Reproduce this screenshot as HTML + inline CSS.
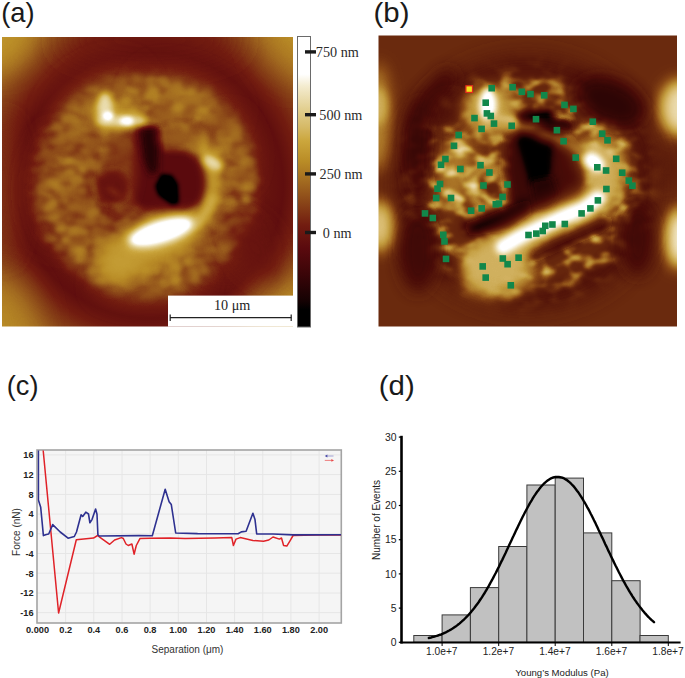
<!DOCTYPE html><html><head><meta charset="utf-8"><style>
html,body{margin:0;padding:0;background:#fff;width:685px;height:678px;overflow:hidden}
svg{display:block}
</style></head><body>
<svg width="685" height="678" viewBox="0 0 685 678">
<rect width="685" height="678" fill="#fff"/>
<defs>
<filter id="cmA" filterUnits="userSpaceOnUse" x="2" y="37" width="291" height="290" color-interpolation-filters="sRGB">
<feComponentTransfer><feFuncR type="table" tableValues="0.000 0.000 0.000 0.014 0.082 0.128 0.173 0.218 0.255 0.290 0.325 0.359 0.388 0.418 0.447 0.476 0.506 0.535 0.568 0.602 0.635 0.668 0.700 0.731 0.756 0.781 0.805 0.826 0.847 0.867 0.886 0.908 0.930 0.952 0.974 0.996 1.000 1.000 1.000 1.000 1.000"/><feFuncG type="table" tableValues="0.000 0.000 0.000 0.001 0.008 0.012 0.015 0.019 0.024 0.029 0.035 0.044 0.066 0.088 0.110 0.161 0.213 0.264 0.315 0.365 0.416 0.463 0.511 0.556 0.593 0.629 0.667 0.706 0.743 0.777 0.812 0.847 0.881 0.916 0.953 0.992 1.000 1.000 1.000 1.000 1.000"/><feFuncB type="table" tableValues="0.000 0.000 0.000 0.002 0.012 0.018 0.024 0.030 0.037 0.043 0.050 0.055 0.058 0.060 0.063 0.073 0.082 0.092 0.103 0.114 0.125 0.134 0.142 0.155 0.186 0.217 0.270 0.356 0.434 0.499 0.565 0.643 0.722 0.800 0.885 0.981 1.000 1.000 1.000 1.000 1.000"/></feComponentTransfer>
</filter>
<clipPath id="clipA"><rect x="2" y="37" width="291" height="289.5"/></clipPath>
<radialGradient id="bgA" cx="150" cy="185" r="215" gradientUnits="userSpaceOnUse">
<stop offset="0" stop-color="#5c5c5c"/>
<stop offset="0.55" stop-color="#4f4f4f"/>
<stop offset="0.62" stop-color="#4a4a4a"/>
<stop offset="0.68" stop-color="#575757"/>
<stop offset="0.78" stop-color="#6b6b6b"/>
<stop offset="0.9" stop-color="#858585"/>
<stop offset="1" stop-color="#999999"/>
</radialGradient>
<radialGradient id="ringA" cx="146" cy="184" r="125" gradientUnits="userSpaceOnUse">
<stop offset="0" stop-color="#5e5e5e" stop-opacity="1"/>
<stop offset="0.8" stop-color="#5e5e5e" stop-opacity="1"/>
<stop offset="0.9" stop-color="#575757" stop-opacity="0.6"/>
<stop offset="1" stop-color="#4f4f4f" stop-opacity="0"/>
</radialGradient>
<filter id="bA18" filterUnits="userSpaceOnUse" x="0" y="30" width="300" height="305"><feGaussianBlur stdDeviation="2.4"/></filter>
<filter id="bA2" filterUnits="userSpaceOnUse" x="0" y="30" width="300" height="305"><feGaussianBlur stdDeviation="2"/></filter>
<filter id="bA3" filterUnits="userSpaceOnUse" x="0" y="30" width="300" height="305"><feGaussianBlur stdDeviation="3"/></filter>
<filter id="bA5" filterUnits="userSpaceOnUse" x="0" y="30" width="300" height="305"><feGaussianBlur stdDeviation="5"/></filter>
<filter id="bA8" filterUnits="userSpaceOnUse" x="0" y="30" width="300" height="305"><feGaussianBlur stdDeviation="8"/></filter>
<filter id="bA12" filterUnits="userSpaceOnUse" x="0" y="30" width="300" height="305"><feGaussianBlur stdDeviation="12"/></filter>
<filter id="bA16" filterUnits="userSpaceOnUse" x="0" y="30" width="300" height="305"><feGaussianBlur stdDeviation="16"/></filter>
<filter id="texA" filterUnits="userSpaceOnUse" x="2" y="37" width="291" height="290" color-interpolation-filters="sRGB">
<feTurbulence type="fractalNoise" baseFrequency="0.06 0.09" numOctaves="2" seed="11" result="n"/>
<feColorMatrix in="n" type="matrix" values="0 0 0 0 1  0 0 0 0 1  0 0 0 0 1  2.0 0 0 0 -0.8" />
<feGaussianBlur stdDeviation="1.5"/>
</filter>
<mask id="ringMaskA"><rect x="0" y="0" width="685" height="678" fill="#000"/>
<ellipse cx="145" cy="184" rx="112" ry="110" fill="#fff" filter="url(#bA8)"/>
</mask>
</defs>
<g clip-path="url(#clipA)"><g filter="url(#cmA)">
<rect x="2" y="37" width="291" height="290" fill="url(#bgA)"/>
<ellipse cx="150" cy="40" rx="90" ry="22" fill="#4f4f4f" fill-opacity="0.6" filter="url(#bA16)"/>
<ellipse cx="2" cy="37" rx="30" ry="35" fill="#999999" fill-opacity="0.6" filter="url(#bA12)"/>
<ellipse cx="293" cy="37" rx="32" ry="42" fill="#949494" fill-opacity="0.5" filter="url(#bA16)"/>
<ellipse cx="2" cy="326" rx="35" ry="50" fill="#919191" fill-opacity="0.7" filter="url(#bA16)"/>
<ellipse cx="293" cy="326" rx="45" ry="60" fill="#949494" fill-opacity="0.8" filter="url(#bA16)"/>
<ellipse cx="2" cy="190" rx="16" ry="70" fill="#666666" fill-opacity="0.8" filter="url(#bA12)"/>
<circle cx="146" cy="184" r="125" fill="url(#ringA)"/>
<ellipse cx="100" cy="105" rx="45" ry="28" fill="#787878" fill-opacity="0.8" transform="rotate(-30 100 105)" filter="url(#bA16)"/>
<ellipse cx="185" cy="105" rx="45" ry="25" fill="#808080" fill-opacity="0.8" transform="rotate(20 185 105)" filter="url(#bA16)"/>
<ellipse cx="232" cy="150" rx="18" ry="35" fill="#7a7a7a" fill-opacity="0.7" transform="rotate(-10 232 150)" filter="url(#bA12)"/>
<ellipse cx="150" cy="285" rx="55" ry="18" fill="#808080" fill-opacity="0.6" filter="url(#bA12)"/>
<ellipse cx="225" cy="250" rx="30" ry="30" fill="#616161" fill-opacity="0.5" filter="url(#bA16)"/>
<ellipse cx="60" cy="190" rx="20" ry="55" fill="#6b6b6b" fill-opacity="0.5" filter="url(#bA16)"/>
<rect x="2" y="37" width="291" height="290" filter="url(#texA)" mask="url(#ringMaskA)" opacity="0.22"/>
<g filter="url(#bA18)"><ellipse cx="103.9" cy="82.2" rx="6.0" ry="4.5" fill="#7c7c7c" fill-opacity="0.19"/><ellipse cx="116.3" cy="82.7" rx="5.4" ry="4.3" fill="#787878" fill-opacity="0.50"/><ellipse cx="124.4" cy="79.9" rx="5.7" ry="4.0" fill="#868686" fill-opacity="0.45"/><ellipse cx="137.5" cy="79.2" rx="7.4" ry="5.0" fill="#868686" fill-opacity="0.53"/><ellipse cx="150.1" cy="80.7" rx="5.1" ry="5.3" fill="#898989" fill-opacity="0.64"/><ellipse cx="163.7" cy="82.2" rx="6.0" ry="4.6" fill="#8d8d8d" fill-opacity="0.65"/><ellipse cx="171.6" cy="80.8" rx="5.2" ry="4.3" fill="#757575" fill-opacity="0.45"/><ellipse cx="184.0" cy="79.0" rx="5.0" ry="4.2" fill="#747474" fill-opacity="0.10"/><ellipse cx="80.1" cy="92.7" rx="5.4" ry="4.8" fill="#848484" fill-opacity="0.04"/><ellipse cx="92.2" cy="90.2" rx="7.2" ry="5.0" fill="#939393" fill-opacity="0.33"/><ellipse cx="105.6" cy="89.2" rx="6.9" ry="4.8" fill="#787878" fill-opacity="0.67"/><ellipse cx="120.7" cy="89.0" rx="7.0" ry="5.5" fill="#7a7a7a" fill-opacity="0.80"/><ellipse cx="133.1" cy="91.8" rx="6.8" ry="4.3" fill="#8e8e8e" fill-opacity="0.80"/><ellipse cx="143.1" cy="89.1" rx="5.1" ry="4.4" fill="#747474" fill-opacity="0.80"/><ellipse cx="153.6" cy="91.2" rx="6.1" ry="5.4" fill="#929292" fill-opacity="0.80"/><ellipse cx="169.9" cy="92.7" rx="5.6" ry="4.3" fill="#7f7f7f" fill-opacity="0.80"/><ellipse cx="177.2" cy="88.2" rx="7.3" ry="5.3" fill="#878787" fill-opacity="0.80"/><ellipse cx="190.9" cy="90.9" rx="5.2" ry="5.0" fill="#8d8d8d" fill-opacity="0.65"/><ellipse cx="205.5" cy="91.7" rx="6.2" ry="4.3" fill="#8c8c8c" fill-opacity="0.22"/><ellipse cx="78.3" cy="97.8" rx="7.4" ry="5.0" fill="#737373" fill-opacity="0.24"/><ellipse cx="90.2" cy="102.6" rx="7.2" ry="5.2" fill="#818181" fill-opacity="0.80"/><ellipse cx="100.3" cy="98.5" rx="5.6" ry="4.9" fill="#7c7c7c" fill-opacity="0.80"/><ellipse cx="112.6" cy="99.5" rx="7.3" ry="4.5" fill="#777777" fill-opacity="0.80"/><ellipse cx="125.7" cy="100.5" rx="6.1" ry="5.4" fill="#919191" fill-opacity="0.80"/><ellipse cx="138.0" cy="100.2" rx="5.0" ry="4.7" fill="#848484" fill-opacity="0.80"/><ellipse cx="148.1" cy="97.0" rx="5.4" ry="4.7" fill="#8d8d8d" fill-opacity="0.80"/><ellipse cx="163.4" cy="100.3" rx="6.3" ry="4.8" fill="#7e7e7e" fill-opacity="0.80"/><ellipse cx="175.7" cy="97.6" rx="5.6" ry="4.4" fill="#858585" fill-opacity="0.80"/><ellipse cx="187.6" cy="100.0" rx="6.9" ry="5.4" fill="#858585" fill-opacity="0.80"/><ellipse cx="197.7" cy="100.7" rx="6.3" ry="5.0" fill="#848484" fill-opacity="0.80"/><ellipse cx="209.7" cy="100.2" rx="7.4" ry="5.0" fill="#838383" fill-opacity="0.53"/><ellipse cx="224.3" cy="102.7" rx="6.4" ry="5.4" fill="#7b7b7b" fill-opacity="0.03"/><ellipse cx="72.0" cy="107.9" rx="7.4" ry="4.3" fill="#909090" fill-opacity="0.47"/><ellipse cx="85.7" cy="109.4" rx="7.5" ry="5.2" fill="#838383" fill-opacity="0.80"/><ellipse cx="93.0" cy="109.6" rx="5.8" ry="4.3" fill="#848484" fill-opacity="0.80"/><ellipse cx="105.9" cy="111.3" rx="6.4" ry="4.7" fill="#737373" fill-opacity="0.80"/><ellipse cx="116.1" cy="109.0" rx="6.3" ry="4.1" fill="#878787" fill-opacity="0.80"/><ellipse cx="133.9" cy="111.7" rx="5.3" ry="4.4" fill="#939393" fill-opacity="0.80"/><ellipse cx="140.2" cy="111.7" rx="5.3" ry="4.6" fill="#7c7c7c" fill-opacity="0.80"/><ellipse cx="157.5" cy="111.9" rx="5.4" ry="5.4" fill="#7b7b7b" fill-opacity="0.80"/><ellipse cx="167.4" cy="111.2" rx="5.1" ry="5.0" fill="#767676" fill-opacity="0.80"/><ellipse cx="178.6" cy="107.4" rx="6.6" ry="5.2" fill="#929292" fill-opacity="0.80"/><ellipse cx="188.5" cy="112.1" rx="7.2" ry="4.7" fill="#757575" fill-opacity="0.80"/><ellipse cx="202.0" cy="110.3" rx="5.7" ry="4.2" fill="#919191" fill-opacity="0.80"/><ellipse cx="215.2" cy="108.4" rx="5.4" ry="4.1" fill="#767676" fill-opacity="0.72"/><ellipse cx="225.2" cy="108.9" rx="6.9" ry="4.4" fill="#7d7d7d" fill-opacity="0.28"/><ellipse cx="56.6" cy="117.6" rx="6.1" ry="4.7" fill="#8e8e8e" fill-opacity="0.14"/><ellipse cx="68.0" cy="119.4" rx="6.7" ry="5.5" fill="#848484" fill-opacity="0.80"/><ellipse cx="77.1" cy="122.0" rx="6.6" ry="4.6" fill="#8a8a8a" fill-opacity="0.80"/><ellipse cx="89.1" cy="117.3" rx="5.2" ry="5.1" fill="#777777" fill-opacity="0.80"/><ellipse cx="100.5" cy="118.0" rx="7.1" ry="5.3" fill="#767676" fill-opacity="0.80"/><ellipse cx="115.0" cy="118.7" rx="5.7" ry="4.7" fill="#7b7b7b" fill-opacity="0.80"/><ellipse cx="123.9" cy="119.7" rx="7.4" ry="5.5" fill="#7b7b7b" fill-opacity="0.80"/><ellipse cx="138.3" cy="118.5" rx="5.8" ry="4.5" fill="#939393" fill-opacity="0.80"/><ellipse cx="147.0" cy="119.3" rx="6.3" ry="4.3" fill="#828282" fill-opacity="0.80"/><ellipse cx="162.0" cy="117.0" rx="5.2" ry="4.6" fill="#7c7c7c" fill-opacity="0.80"/><ellipse cx="171.3" cy="117.1" rx="5.6" ry="4.9" fill="#7d7d7d" fill-opacity="0.80"/><ellipse cx="212.3" cy="119.3" rx="7.5" ry="4.2" fill="#7e7e7e" fill-opacity="0.80"/><ellipse cx="223.3" cy="120.9" rx="7.1" ry="5.3" fill="#747474" fill-opacity="0.80"/><ellipse cx="234.8" cy="121.4" rx="5.3" ry="4.8" fill="#8e8e8e" fill-opacity="0.32"/><ellipse cx="48.1" cy="131.2" rx="5.1" ry="4.2" fill="#7a7a7a" fill-opacity="0.15"/><ellipse cx="58.2" cy="127.6" rx="6.4" ry="4.9" fill="#8e8e8e" fill-opacity="0.61"/><ellipse cx="71.8" cy="131.1" rx="5.0" ry="5.2" fill="#838383" fill-opacity="0.80"/><ellipse cx="84.5" cy="130.0" rx="6.6" ry="4.1" fill="#848484" fill-opacity="0.80"/><ellipse cx="96.4" cy="128.5" rx="5.7" ry="5.1" fill="#757575" fill-opacity="0.80"/><ellipse cx="105.2" cy="131.4" rx="6.2" ry="4.6" fill="#939393" fill-opacity="0.80"/><ellipse cx="118.9" cy="131.1" rx="6.5" ry="5.0" fill="#8c8c8c" fill-opacity="0.80"/><ellipse cx="224.7" cy="132.4" rx="7.4" ry="5.4" fill="#797979" fill-opacity="0.80"/><ellipse cx="236.1" cy="129.8" rx="7.4" ry="4.7" fill="#8e8e8e" fill-opacity="0.55"/><ellipse cx="42.1" cy="142.7" rx="7.1" ry="4.8" fill="#777777" fill-opacity="0.12"/><ellipse cx="56.3" cy="141.2" rx="7.2" ry="4.7" fill="#7a7a7a" fill-opacity="0.80"/><ellipse cx="63.1" cy="137.0" rx="6.1" ry="4.5" fill="#838383" fill-opacity="0.80"/><ellipse cx="75.8" cy="139.1" rx="7.1" ry="4.0" fill="#7d7d7d" fill-opacity="0.80"/><ellipse cx="91.5" cy="142.0" rx="7.3" ry="5.1" fill="#777777" fill-opacity="0.80"/><ellipse cx="104.4" cy="138.7" rx="6.0" ry="5.5" fill="#7f7f7f" fill-opacity="0.80"/><ellipse cx="114.5" cy="139.2" rx="5.7" ry="4.1" fill="#818181" fill-opacity="0.80"/><ellipse cx="123.6" cy="142.0" rx="7.3" ry="4.4" fill="#7c7c7c" fill-opacity="0.80"/><ellipse cx="221.7" cy="141.5" rx="5.7" ry="4.1" fill="#888888" fill-opacity="0.80"/><ellipse cx="236.6" cy="137.8" rx="5.9" ry="4.4" fill="#828282" fill-opacity="0.79"/><ellipse cx="247.4" cy="142.9" rx="6.6" ry="4.5" fill="#7b7b7b" fill-opacity="0.28"/><ellipse cx="45.2" cy="152.4" rx="5.6" ry="5.4" fill="#838383" fill-opacity="0.54"/><ellipse cx="62.0" cy="149.7" rx="5.5" ry="4.1" fill="#777777" fill-opacity="0.80"/><ellipse cx="70.1" cy="147.5" rx="5.6" ry="4.9" fill="#7b7b7b" fill-opacity="0.80"/><ellipse cx="85.3" cy="151.5" rx="6.0" ry="4.8" fill="#808080" fill-opacity="0.80"/><ellipse cx="94.3" cy="149.0" rx="5.7" ry="5.5" fill="#757575" fill-opacity="0.80"/><ellipse cx="104.8" cy="150.0" rx="7.2" ry="4.3" fill="#888888" fill-opacity="0.80"/><ellipse cx="217.0" cy="152.1" rx="5.6" ry="4.2" fill="#939393" fill-opacity="0.80"/><ellipse cx="224.9" cy="150.1" rx="7.4" ry="5.1" fill="#898989" fill-opacity="0.80"/><ellipse cx="239.9" cy="151.6" rx="6.4" ry="4.1" fill="#828282" fill-opacity="0.80"/><ellipse cx="252.7" cy="148.4" rx="6.6" ry="4.5" fill="#919191" fill-opacity="0.08"/><ellipse cx="39.7" cy="157.4" rx="6.5" ry="4.6" fill="#848484" fill-opacity="0.28"/><ellipse cx="52.3" cy="160.6" rx="5.8" ry="4.7" fill="#737373" fill-opacity="0.80"/><ellipse cx="68.8" cy="160.9" rx="6.2" ry="4.4" fill="#909090" fill-opacity="0.80"/><ellipse cx="76.5" cy="162.8" rx="5.8" ry="4.0" fill="#8a8a8a" fill-opacity="0.80"/><ellipse cx="90.0" cy="161.0" rx="5.6" ry="5.0" fill="#818181" fill-opacity="0.80"/><ellipse cx="104.6" cy="158.4" rx="5.8" ry="4.6" fill="#747474" fill-opacity="0.80"/><ellipse cx="223.0" cy="162.7" rx="6.0" ry="4.3" fill="#787878" fill-opacity="0.80"/><ellipse cx="236.8" cy="157.9" rx="5.2" ry="4.6" fill="#747474" fill-opacity="0.80"/><ellipse cx="248.4" cy="162.3" rx="7.5" ry="5.4" fill="#8b8b8b" fill-opacity="0.61"/><ellipse cx="37.6" cy="171.5" rx="6.7" ry="4.6" fill="#747474" fill-opacity="0.32"/><ellipse cx="46.2" cy="169.0" rx="5.0" ry="4.4" fill="#787878" fill-opacity="0.80"/><ellipse cx="58.1" cy="172.7" rx="7.4" ry="4.3" fill="#777777" fill-opacity="0.80"/><ellipse cx="70.1" cy="171.9" rx="6.1" ry="4.1" fill="#8e8e8e" fill-opacity="0.80"/><ellipse cx="82.8" cy="169.2" rx="5.5" ry="4.5" fill="#919191" fill-opacity="0.80"/><ellipse cx="97.4" cy="167.2" rx="7.0" ry="5.2" fill="#808080" fill-opacity="0.80"/><ellipse cx="215.8" cy="172.7" rx="5.6" ry="4.7" fill="#747474" fill-opacity="0.80"/><ellipse cx="229.7" cy="172.7" rx="5.6" ry="4.6" fill="#808080" fill-opacity="0.80"/><ellipse cx="239.0" cy="172.6" rx="7.0" ry="5.1" fill="#797979" fill-opacity="0.80"/><ellipse cx="252.9" cy="171.6" rx="5.8" ry="4.5" fill="#878787" fill-opacity="0.42"/><ellipse cx="43.5" cy="178.5" rx="5.1" ry="4.8" fill="#757575" fill-opacity="0.75"/><ellipse cx="53.0" cy="182.9" rx="7.5" ry="4.4" fill="#909090" fill-opacity="0.80"/><ellipse cx="63.5" cy="177.6" rx="6.8" ry="4.7" fill="#838383" fill-opacity="0.80"/><ellipse cx="76.4" cy="179.5" rx="6.7" ry="5.1" fill="#878787" fill-opacity="0.80"/><ellipse cx="92.1" cy="181.0" rx="7.1" ry="4.4" fill="#777777" fill-opacity="0.80"/><ellipse cx="224.0" cy="182.5" rx="5.7" ry="4.2" fill="#747474" fill-opacity="0.80"/><ellipse cx="232.1" cy="182.8" rx="7.3" ry="4.6" fill="#868686" fill-opacity="0.80"/><ellipse cx="248.2" cy="179.7" rx="6.9" ry="5.4" fill="#7b7b7b" fill-opacity="0.78"/><ellipse cx="255.6" cy="180.6" rx="5.5" ry="4.6" fill="#878787" fill-opacity="0.29"/><ellipse cx="32.8" cy="188.2" rx="6.5" ry="5.0" fill="#7b7b7b" fill-opacity="0.05"/><ellipse cx="45.2" cy="187.1" rx="6.7" ry="4.3" fill="#7e7e7e" fill-opacity="0.80"/><ellipse cx="57.9" cy="188.2" rx="6.4" ry="4.1" fill="#8d8d8d" fill-opacity="0.80"/><ellipse cx="68.6" cy="189.4" rx="6.6" ry="4.1" fill="#858585" fill-opacity="0.80"/><ellipse cx="81.0" cy="191.2" rx="5.7" ry="4.5" fill="#808080" fill-opacity="0.80"/><ellipse cx="97.7" cy="188.9" rx="5.9" ry="4.6" fill="#868686" fill-opacity="0.80"/><ellipse cx="226.2" cy="190.0" rx="5.7" ry="4.8" fill="#787878" fill-opacity="0.80"/><ellipse cx="241.6" cy="187.7" rx="7.0" ry="5.5" fill="#838383" fill-opacity="0.80"/><ellipse cx="249.2" cy="187.8" rx="7.4" ry="4.7" fill="#929292" fill-opacity="0.72"/><ellipse cx="42.7" cy="201.9" rx="7.0" ry="4.3" fill="#787878" fill-opacity="0.62"/><ellipse cx="53.4" cy="202.1" rx="5.5" ry="4.3" fill="#8e8e8e" fill-opacity="0.80"/><ellipse cx="65.4" cy="200.1" rx="5.3" ry="4.4" fill="#7f7f7f" fill-opacity="0.80"/><ellipse cx="79.3" cy="202.4" rx="6.4" ry="5.1" fill="#747474" fill-opacity="0.80"/><ellipse cx="87.2" cy="202.0" rx="6.5" ry="4.8" fill="#777777" fill-opacity="0.80"/><ellipse cx="219.6" cy="199.7" rx="5.1" ry="5.0" fill="#848484" fill-opacity="0.80"/><ellipse cx="231.5" cy="201.4" rx="6.3" ry="4.1" fill="#8d8d8d" fill-opacity="0.80"/><ellipse cx="246.0" cy="199.3" rx="5.3" ry="5.3" fill="#929292" fill-opacity="0.80"/><ellipse cx="36.9" cy="208.2" rx="6.2" ry="5.4" fill="#939393" fill-opacity="0.16"/><ellipse cx="49.5" cy="208.0" rx="7.3" ry="4.1" fill="#8d8d8d" fill-opacity="0.80"/><ellipse cx="58.1" cy="211.5" rx="7.2" ry="4.4" fill="#787878" fill-opacity="0.80"/><ellipse cx="72.9" cy="207.9" rx="7.3" ry="4.3" fill="#838383" fill-opacity="0.80"/><ellipse cx="81.6" cy="210.0" rx="5.1" ry="4.3" fill="#7d7d7d" fill-opacity="0.80"/><ellipse cx="93.0" cy="212.6" rx="7.2" ry="4.3" fill="#898989" fill-opacity="0.80"/><ellipse cx="216.6" cy="209.7" rx="6.9" ry="4.1" fill="#797979" fill-opacity="0.80"/><ellipse cx="228.9" cy="208.5" rx="7.5" ry="4.9" fill="#888888" fill-opacity="0.80"/><ellipse cx="240.0" cy="208.9" rx="5.1" ry="4.2" fill="#737373" fill-opacity="0.80"/><ellipse cx="251.7" cy="209.6" rx="7.2" ry="4.2" fill="#848484" fill-opacity="0.37"/><ellipse cx="41.1" cy="217.6" rx="5.6" ry="4.9" fill="#7f7f7f" fill-opacity="0.28"/><ellipse cx="54.5" cy="218.2" rx="6.2" ry="4.2" fill="#878787" fill-opacity="0.80"/><ellipse cx="68.6" cy="218.5" rx="5.2" ry="5.0" fill="#787878" fill-opacity="0.80"/><ellipse cx="80.2" cy="221.7" rx="5.7" ry="4.0" fill="#808080" fill-opacity="0.80"/><ellipse cx="90.9" cy="220.4" rx="6.6" ry="4.7" fill="#7e7e7e" fill-opacity="0.80"/><ellipse cx="104.6" cy="221.4" rx="7.3" ry="4.1" fill="#7b7b7b" fill-opacity="0.80"/><ellipse cx="186.8" cy="221.9" rx="5.8" ry="4.5" fill="#797979" fill-opacity="0.80"/><ellipse cx="195.3" cy="222.3" rx="6.8" ry="4.0" fill="#8d8d8d" fill-opacity="0.80"/><ellipse cx="212.1" cy="221.5" rx="6.9" ry="4.7" fill="#828282" fill-opacity="0.80"/><ellipse cx="220.4" cy="217.6" rx="5.1" ry="4.5" fill="#7a7a7a" fill-opacity="0.80"/><ellipse cx="235.5" cy="221.2" rx="6.8" ry="4.4" fill="#8f8f8f" fill-opacity="0.80"/><ellipse cx="246.3" cy="219.6" rx="6.3" ry="4.4" fill="#8d8d8d" fill-opacity="0.52"/><ellipse cx="44.1" cy="228.6" rx="6.9" ry="5.4" fill="#7b7b7b" fill-opacity="0.21"/><ellipse cx="60.5" cy="229.0" rx="5.8" ry="4.4" fill="#909090" fill-opacity="0.80"/><ellipse cx="73.4" cy="230.8" rx="6.7" ry="5.5" fill="#8a8a8a" fill-opacity="0.80"/><ellipse cx="82.8" cy="232.0" rx="7.1" ry="4.7" fill="#8a8a8a" fill-opacity="0.80"/><ellipse cx="96.3" cy="230.4" rx="5.5" ry="4.9" fill="#7d7d7d" fill-opacity="0.80"/><ellipse cx="104.5" cy="232.5" rx="5.1" ry="4.2" fill="#787878" fill-opacity="0.80"/><ellipse cx="121.6" cy="229.1" rx="5.1" ry="4.1" fill="#777777" fill-opacity="0.80"/><ellipse cx="166.2" cy="231.9" rx="7.2" ry="4.1" fill="#8e8e8e" fill-opacity="0.80"/><ellipse cx="181.2" cy="232.5" rx="5.3" ry="4.3" fill="#929292" fill-opacity="0.80"/><ellipse cx="188.7" cy="227.2" rx="7.0" ry="5.0" fill="#8f8f8f" fill-opacity="0.80"/><ellipse cx="205.0" cy="230.8" rx="5.2" ry="4.1" fill="#7c7c7c" fill-opacity="0.80"/><ellipse cx="216.5" cy="228.2" rx="6.1" ry="4.0" fill="#7d7d7d" fill-opacity="0.80"/><ellipse cx="225.5" cy="228.7" rx="5.9" ry="4.5" fill="#8a8a8a" fill-opacity="0.80"/><ellipse cx="241.8" cy="230.0" rx="6.5" ry="4.0" fill="#8f8f8f" fill-opacity="0.54"/><ellipse cx="250.5" cy="229.6" rx="5.9" ry="5.1" fill="#8c8c8c" fill-opacity="0.03"/><ellipse cx="51.0" cy="238.2" rx="7.4" ry="4.0" fill="#8c8c8c" fill-opacity="0.34"/><ellipse cx="65.9" cy="239.9" rx="5.5" ry="4.7" fill="#8d8d8d" fill-opacity="0.80"/><ellipse cx="77.1" cy="242.0" rx="7.4" ry="4.4" fill="#7b7b7b" fill-opacity="0.80"/><ellipse cx="88.3" cy="241.2" rx="5.3" ry="5.0" fill="#838383" fill-opacity="0.80"/><ellipse cx="99.5" cy="241.7" rx="7.0" ry="4.9" fill="#8a8a8a" fill-opacity="0.80"/><ellipse cx="113.1" cy="239.4" rx="7.2" ry="4.1" fill="#808080" fill-opacity="0.80"/><ellipse cx="128.3" cy="237.2" rx="5.7" ry="5.4" fill="#7a7a7a" fill-opacity="0.80"/><ellipse cx="138.0" cy="239.3" rx="5.6" ry="4.7" fill="#909090" fill-opacity="0.80"/><ellipse cx="150.2" cy="241.5" rx="6.6" ry="4.5" fill="#8c8c8c" fill-opacity="0.80"/><ellipse cx="161.0" cy="237.9" rx="6.7" ry="5.1" fill="#8f8f8f" fill-opacity="0.80"/><ellipse cx="172.0" cy="239.6" rx="6.4" ry="4.2" fill="#8c8c8c" fill-opacity="0.80"/><ellipse cx="185.8" cy="242.3" rx="5.5" ry="4.5" fill="#7b7b7b" fill-opacity="0.80"/><ellipse cx="199.2" cy="242.1" rx="5.4" ry="4.4" fill="#787878" fill-opacity="0.80"/><ellipse cx="209.0" cy="240.1" rx="5.8" ry="4.3" fill="#787878" fill-opacity="0.80"/><ellipse cx="224.9" cy="241.4" rx="7.4" ry="4.2" fill="#767676" fill-opacity="0.80"/><ellipse cx="233.3" cy="242.9" rx="6.8" ry="4.7" fill="#8d8d8d" fill-opacity="0.62"/><ellipse cx="244.2" cy="240.8" rx="5.5" ry="4.6" fill="#767676" fill-opacity="0.07"/><ellipse cx="58.8" cy="247.9" rx="6.0" ry="5.1" fill="#878787" fill-opacity="0.43"/><ellipse cx="73.4" cy="249.6" rx="6.9" ry="4.6" fill="#868686" fill-opacity="0.80"/><ellipse cx="81.4" cy="251.3" rx="6.9" ry="5.1" fill="#909090" fill-opacity="0.80"/><ellipse cx="97.1" cy="251.1" rx="6.1" ry="4.5" fill="#888888" fill-opacity="0.80"/><ellipse cx="107.8" cy="247.6" rx="7.0" ry="5.1" fill="#818181" fill-opacity="0.80"/><ellipse cx="119.8" cy="248.5" rx="6.1" ry="4.9" fill="#818181" fill-opacity="0.80"/><ellipse cx="130.5" cy="251.1" rx="5.5" ry="5.0" fill="#929292" fill-opacity="0.80"/><ellipse cx="144.7" cy="249.3" rx="7.4" ry="4.1" fill="#838383" fill-opacity="0.80"/><ellipse cx="155.3" cy="248.0" rx="7.4" ry="4.8" fill="#8d8d8d" fill-opacity="0.80"/><ellipse cx="164.6" cy="250.4" rx="6.8" ry="4.8" fill="#858585" fill-opacity="0.80"/><ellipse cx="179.8" cy="252.0" rx="6.0" ry="5.4" fill="#848484" fill-opacity="0.80"/><ellipse cx="189.3" cy="251.1" rx="6.9" ry="4.2" fill="#808080" fill-opacity="0.80"/><ellipse cx="205.9" cy="249.1" rx="5.7" ry="4.6" fill="#757575" fill-opacity="0.80"/><ellipse cx="212.1" cy="249.5" rx="6.7" ry="4.5" fill="#818181" fill-opacity="0.80"/><ellipse cx="225.6" cy="248.3" rx="7.3" ry="4.8" fill="#8b8b8b" fill-opacity="0.80"/><ellipse cx="237.3" cy="251.8" rx="5.5" ry="4.2" fill="#808080" fill-opacity="0.06"/><ellipse cx="67.9" cy="259.8" rx="6.4" ry="4.2" fill="#7d7d7d" fill-opacity="0.39"/><ellipse cx="80.0" cy="259.1" rx="5.7" ry="4.6" fill="#8f8f8f" fill-opacity="0.80"/><ellipse cx="88.5" cy="259.6" rx="5.0" ry="5.1" fill="#797979" fill-opacity="0.80"/><ellipse cx="100.7" cy="258.5" rx="6.2" ry="4.6" fill="#7d7d7d" fill-opacity="0.80"/><ellipse cx="114.8" cy="261.0" rx="7.3" ry="5.3" fill="#7f7f7f" fill-opacity="0.80"/><ellipse cx="123.3" cy="262.0" rx="7.0" ry="4.2" fill="#919191" fill-opacity="0.80"/><ellipse cx="140.0" cy="260.8" rx="5.0" ry="5.4" fill="#737373" fill-opacity="0.80"/><ellipse cx="150.9" cy="258.5" rx="5.4" ry="4.4" fill="#767676" fill-opacity="0.80"/><ellipse cx="163.7" cy="259.1" rx="7.3" ry="5.2" fill="#787878" fill-opacity="0.80"/><ellipse cx="172.0" cy="262.3" rx="7.0" ry="5.0" fill="#878787" fill-opacity="0.80"/><ellipse cx="188.4" cy="261.7" rx="5.5" ry="5.0" fill="#8f8f8f" fill-opacity="0.80"/><ellipse cx="198.2" cy="261.5" rx="7.2" ry="4.8" fill="#818181" fill-opacity="0.80"/><ellipse cx="208.6" cy="258.4" rx="6.2" ry="4.1" fill="#777777" fill-opacity="0.80"/><ellipse cx="221.8" cy="257.9" rx="6.2" ry="4.8" fill="#838383" fill-opacity="0.59"/><ellipse cx="71.8" cy="267.2" rx="6.7" ry="5.4" fill="#878787" fill-opacity="0.22"/><ellipse cx="82.0" cy="272.9" rx="6.2" ry="5.3" fill="#848484" fill-opacity="0.35"/><ellipse cx="92.2" cy="271.3" rx="5.8" ry="5.3" fill="#878787" fill-opacity="0.80"/><ellipse cx="106.2" cy="269.8" rx="6.9" ry="4.3" fill="#848484" fill-opacity="0.80"/><ellipse cx="118.6" cy="269.5" rx="7.1" ry="4.4" fill="#858585" fill-opacity="0.80"/><ellipse cx="133.0" cy="269.4" rx="5.7" ry="4.8" fill="#838383" fill-opacity="0.80"/><ellipse cx="145.8" cy="270.9" rx="5.8" ry="4.5" fill="#8d8d8d" fill-opacity="0.80"/><ellipse cx="153.8" cy="270.5" rx="7.0" ry="4.1" fill="#888888" fill-opacity="0.80"/><ellipse cx="168.3" cy="272.3" rx="5.1" ry="4.5" fill="#858585" fill-opacity="0.80"/><ellipse cx="176.0" cy="268.1" rx="6.5" ry="5.0" fill="#919191" fill-opacity="0.80"/><ellipse cx="192.7" cy="272.5" rx="6.5" ry="4.9" fill="#878787" fill-opacity="0.80"/><ellipse cx="204.2" cy="270.6" rx="5.5" ry="5.0" fill="#898989" fill-opacity="0.70"/><ellipse cx="214.7" cy="271.6" rx="5.5" ry="4.1" fill="#767676" fill-opacity="0.23"/><ellipse cx="91.9" cy="280.5" rx="6.1" ry="4.0" fill="#919191" fill-opacity="0.28"/><ellipse cx="101.3" cy="280.6" rx="7.5" ry="4.7" fill="#929292" fill-opacity="0.57"/><ellipse cx="113.5" cy="277.6" rx="5.5" ry="4.2" fill="#888888" fill-opacity="0.80"/><ellipse cx="123.1" cy="277.0" rx="5.3" ry="5.4" fill="#898989" fill-opacity="0.80"/><ellipse cx="135.5" cy="282.2" rx="5.0" ry="5.1" fill="#777777" fill-opacity="0.80"/><ellipse cx="148.5" cy="281.4" rx="5.1" ry="5.2" fill="#797979" fill-opacity="0.80"/><ellipse cx="163.3" cy="282.1" rx="5.2" ry="4.9" fill="#8b8b8b" fill-opacity="0.80"/><ellipse cx="175.3" cy="279.8" rx="5.6" ry="5.4" fill="#929292" fill-opacity="0.80"/><ellipse cx="187.3" cy="277.1" rx="6.6" ry="5.2" fill="#737373" fill-opacity="0.80"/><ellipse cx="195.5" cy="278.9" rx="5.4" ry="5.3" fill="#8b8b8b" fill-opacity="0.53"/><ellipse cx="209.9" cy="277.4" rx="6.4" ry="4.7" fill="#7f7f7f" fill-opacity="0.11"/><ellipse cx="109.0" cy="290.6" rx="6.1" ry="5.3" fill="#7d7d7d" fill-opacity="0.14"/><ellipse cx="118.3" cy="291.1" rx="7.2" ry="5.2" fill="#878787" fill-opacity="0.29"/><ellipse cx="129.7" cy="287.0" rx="6.1" ry="4.9" fill="#7b7b7b" fill-opacity="0.71"/><ellipse cx="144.9" cy="292.3" rx="7.1" ry="5.2" fill="#747474" fill-opacity="0.44"/><ellipse cx="157.2" cy="290.4" rx="7.1" ry="5.2" fill="#7c7c7c" fill-opacity="0.53"/><ellipse cx="168.1" cy="292.5" rx="5.2" ry="4.8" fill="#7e7e7e" fill-opacity="0.28"/><ellipse cx="180.8" cy="288.2" rx="7.3" ry="4.4" fill="#8c8c8c" fill-opacity="0.34"/><ellipse cx="139.7" cy="297.9" rx="5.9" ry="4.8" fill="#878787" fill-opacity="0.06"/><ellipse cx="147.1" cy="297.2" rx="7.2" ry="4.7" fill="#949494" fill-opacity="0.12"/></g>
<ellipse cx="255" cy="248" rx="18" ry="42" fill="#4f4f4f" fill-opacity="0.85" transform="rotate(-35 255 248)" filter="url(#bA12)"/>
<path d="M136.5,127.7 L159.6,129.5 L163,150.7 L184.3,150.7 L202,163 L210.9,180.8 L202,202 L184.3,210.9 L163,211 L141.9,209.1 L131.2,198.5 L129.5,172 L133,145.4 Z" fill="#454545" filter="url(#bA3)"/>
<path d="M140,128 L157,128 L159,150 L158,172 L150,175 L143,160 Z" fill="#212121" filter="url(#bA3)"/>
<path d="M161.3,173.7 L172,175 L178,184 L179,203.8 L172,205.6 L158,195 L155,186 Z" fill="#050505" filter="url(#bA2)"/>
<ellipse cx="122" cy="170" rx="16" ry="40" fill="#696969" fill-opacity="0.7" filter="url(#bA5)"/>
<ellipse cx="112" cy="187" rx="16" ry="16" fill="#4c4c4c" fill-opacity="0.9" filter="url(#bA3)"/>
<ellipse cx="114" cy="192" rx="9" ry="3" fill="#636363" fill-opacity="0.8" transform="rotate(35 114 192)" filter="url(#bA2)"/>
<path d="M196,224 Q214,206 214,182 Q212,158 198,140" fill="none" stroke="#9c9c9c" stroke-width="14" filter="url(#bA5)"/>
<path d="M192,228 Q208,215 214,195" fill="none" stroke="#a8a8a8" stroke-width="8" filter="url(#bA3)"/>
<ellipse cx="180" cy="138" rx="22" ry="10" fill="#808080" fill-opacity="0.7" filter="url(#bA5)"/>
<ellipse cx="150" cy="245" rx="55" ry="24" fill="#9e9e9e" fill-opacity="0.85" transform="rotate(-22 150 245)" filter="url(#bA8)"/>
<ellipse cx="122" cy="262" rx="28" ry="16" fill="#9e9e9e" fill-opacity="0.8" transform="rotate(-30 122 262)" filter="url(#bA8)"/>
<ellipse cx="162" cy="232" rx="38" ry="15" fill="#bdbdbd" fill-opacity="1" transform="rotate(-17 162 232)" filter="url(#bA5)"/>
<ellipse cx="161" cy="232" rx="32" ry="10" fill="#f7f7f7" fill-opacity="1" transform="rotate(-17 161 232)" filter="url(#bA3)"/>
<ellipse cx="115" cy="115" rx="26" ry="13" fill="#999999" fill-opacity="0.85" filter="url(#bA5)"/>
<ellipse cx="105" cy="108" rx="8" ry="16" fill="#cccccc" fill-opacity="0.95" filter="url(#bA3)"/>
<ellipse cx="122" cy="121" rx="26" ry="6" fill="#cccccc" fill-opacity="0.9" filter="url(#bA3)"/>
<ellipse cx="126" cy="121" rx="7" ry="3.5" fill="#e6e6e6" fill-opacity="1" filter="url(#bA2)"/>
<ellipse cx="108" cy="116" rx="5" ry="4" fill="#f5f5f5" fill-opacity="1" filter="url(#bA2)"/>
<ellipse cx="128" cy="121" rx="5" ry="3" fill="#e6e6e6" fill-opacity="1" filter="url(#bA2)"/>
<ellipse cx="213" cy="163" rx="11" ry="6" fill="#cccccc" fill-opacity="0.95" transform="rotate(32 213 163)" filter="url(#bA3)"/>
</g></g>
<defs>
<filter id="cmB" filterUnits="userSpaceOnUse" x="378.5" y="35.5" width="299" height="291" color-interpolation-filters="sRGB">
<feComponentTransfer><feFuncR type="table" tableValues="0.000 0.016 0.031 0.079 0.127 0.170 0.194 0.218 0.242 0.266 0.290 0.311 0.332 0.353 0.374 0.395 0.416 0.455 0.494 0.533 0.575 0.617 0.659 0.693 0.727 0.762 0.790 0.816 0.842 0.867 0.886 0.906 0.925 0.945 0.963 0.982 1.000 1.000 1.000 1.000 1.000"/><feFuncG type="table" tableValues="0.000 0.004 0.008 0.012 0.016 0.021 0.026 0.031 0.037 0.042 0.047 0.067 0.086 0.106 0.125 0.145 0.165 0.204 0.243 0.282 0.335 0.391 0.447 0.501 0.555 0.609 0.649 0.686 0.723 0.760 0.795 0.831 0.866 0.901 0.934 0.967 1.000 1.000 1.000 1.000 1.000"/><feFuncB type="table" tableValues="0.000 0.002 0.004 0.010 0.015 0.020 0.022 0.025 0.027 0.029 0.031 0.035 0.039 0.043 0.047 0.051 0.055 0.065 0.075 0.084 0.104 0.127 0.149 0.181 0.213 0.245 0.300 0.361 0.422 0.485 0.555 0.626 0.696 0.768 0.846 0.923 1.000 1.000 1.000 1.000 1.000"/></feComponentTransfer>
</filter>
<clipPath id="clipB"><rect x="378.5" y="35.5" width="298.5" height="291"/></clipPath>
<filter id="bB2" filterUnits="userSpaceOnUse" x="370" y="30" width="315" height="305"><feGaussianBlur stdDeviation="2"/></filter>
<filter id="bB3" filterUnits="userSpaceOnUse" x="370" y="30" width="315" height="305"><feGaussianBlur stdDeviation="3"/></filter>
<filter id="bB5" filterUnits="userSpaceOnUse" x="370" y="30" width="315" height="305"><feGaussianBlur stdDeviation="5"/></filter>
<filter id="bB8" filterUnits="userSpaceOnUse" x="370" y="30" width="315" height="305"><feGaussianBlur stdDeviation="8"/></filter>
<filter id="bB12" filterUnits="userSpaceOnUse" x="370" y="30" width="315" height="305"><feGaussianBlur stdDeviation="12"/></filter>
<filter id="bB16" filterUnits="userSpaceOnUse" x="370" y="30" width="315" height="305"><feGaussianBlur stdDeviation="16"/></filter>
<filter id="texB" filterUnits="userSpaceOnUse" x="378" y="35" width="300" height="292" color-interpolation-filters="sRGB">
<feTurbulence type="fractalNoise" baseFrequency="0.06 0.09" numOctaves="2" seed="5" result="n"/>
<feColorMatrix in="n" type="matrix" values="0 0 0 0 1  0 0 0 0 1  0 0 0 0 1  2.2 0 0 0 -0.95" />
<feGaussianBlur stdDeviation="1.5"/>
</filter>
<mask id="ringMaskB"><rect x="0" y="0" width="685" height="678" fill="#000"/>
<ellipse cx="527" cy="185" rx="120" ry="112" fill="#fff" filter="url(#bB12)"/>
</mask>
</defs>
<g clip-path="url(#clipB)"><g filter="url(#cmB)">
<rect x="378" y="35" width="300" height="292" fill="#666666"/>
<ellipse cx="527" cy="183" rx="115" ry="108" fill="none" stroke="#404040" stroke-width="34" filter="url(#bB12)"/>
<ellipse cx="525" cy="182" rx="86" ry="84" fill="none" stroke="#636363" stroke-width="44" filter="url(#bB8)"/>
<ellipse cx="490" cy="188" rx="18" ry="20" fill="none" stroke="#999999" stroke-width="10" filter="url(#bB3)"/>
<ellipse cx="490" cy="188" rx="10" ry="12" fill="#5c5c5c" fill-opacity="1" filter="url(#bB5)"/>
<ellipse cx="420" cy="140" rx="12" ry="40" fill="#2e2e2e" fill-opacity="0.9" filter="url(#bB8)"/>
<ellipse cx="418" cy="245" rx="14" ry="30" fill="#333333" fill-opacity="0.8" filter="url(#bB8)"/>
<ellipse cx="560" cy="122" rx="12" ry="6" fill="#333333" fill-opacity="0.9" filter="url(#bB5)"/>
<ellipse cx="668" cy="168" rx="14" ry="20" fill="#525252" fill-opacity="0.8" filter="url(#bB8)"/>
<ellipse cx="455" cy="170" rx="18" ry="40" fill="#999999" fill-opacity="0.8" transform="rotate(10 455 170)" filter="url(#bB8)"/>
<ellipse cx="500" cy="280" rx="40" ry="18" fill="#949494" fill-opacity="0.9" transform="rotate(-10 500 280)" filter="url(#bB8)"/>
<ellipse cx="610" cy="150" rx="16" ry="30" fill="#999999" fill-opacity="0.8" transform="rotate(-20 610 150)" filter="url(#bB8)"/>
<rect x="378" y="35" width="300" height="292" filter="url(#texB)" mask="url(#ringMaskB)" opacity="0.72"/>
<ellipse cx="610" cy="102" rx="36" ry="22" fill="#212121" fill-opacity="1" transform="rotate(22 610 102)" filter="url(#bB8)"/>
<ellipse cx="638" cy="240" rx="16" ry="36" fill="#333333" fill-opacity="0.85" filter="url(#bB8)"/>
<polyline points="448,78 428,98 416,130 414,165 418,190" fill="none" stroke="#2b2b2b" stroke-opacity="0.9" stroke-width="16" stroke-linecap="round" stroke-linejoin="round" filter="url(#bB8)"/>
<ellipse cx="418" cy="250" rx="18" ry="42" fill="#333333" fill-opacity="0.9" filter="url(#bB8)"/>
<polygon points="508,135 550,120 586,160 586,205 545,215 512,210 506,170" fill="#333333" fill-opacity="1" filter="url(#bB5)"/>
<polygon points="515,112 552,110 556,140 553,168 545,185 530,186 524,165 518,145" fill="#050505" fill-opacity="1" filter="url(#bB3)"/>
<ellipse cx="567" cy="166" rx="13" ry="26" fill="#3d3d3d" fill-opacity="0.9" transform="rotate(-10 567 166)" filter="url(#bB5)"/>
<polygon points="530,180 552,176 558,195 550,208 535,208" fill="#1f1f1f" fill-opacity="1" filter="url(#bB3)"/>
<polyline points="535,122 552,122 568,126" fill="none" stroke="#1f1f1f" stroke-opacity="1" stroke-width="7" stroke-linecap="round" stroke-linejoin="round" filter="url(#bB3)"/>
<polygon points="462,224 490,214 530,198 532,214 508,232 470,236" fill="#080808" fill-opacity="1" filter="url(#bB5)"/>
<polyline points="532,254 556,243 580,233 604,222" fill="none" stroke="#141414" stroke-opacity="1" stroke-width="12" stroke-linecap="round" stroke-linejoin="round" filter="url(#bB5)"/>
<ellipse cx="498" cy="265" rx="32" ry="26" fill="#adadad" fill-opacity="1" transform="rotate(-20 498 265)" filter="url(#bB8)"/>
<polyline points="480,266 505,248 522,237 545,225 565,216 585,208 598,199 606,187 603,172" fill="none" stroke="#adadad" stroke-opacity="1" stroke-width="34" stroke-linecap="round" stroke-linejoin="round" filter="url(#bB8)"/>
<polyline points="503,247 520,237 545,225 565,216 585,208 598,198" fill="none" stroke="#ededed" stroke-opacity="1" stroke-width="15" stroke-linecap="round" stroke-linejoin="round" filter="url(#bB3)"/>
<ellipse cx="596" cy="160" rx="24" ry="15" fill="#adadad" fill-opacity="1" transform="rotate(40 596 160)" filter="url(#bB8)"/>
<ellipse cx="594" cy="162" rx="12" ry="8" fill="#f0f0f0" fill-opacity="1" transform="rotate(40 594 162)" filter="url(#bB3)"/>
<ellipse cx="450" cy="112" rx="16" ry="15" fill="#424242" fill-opacity="0.9" filter="url(#bB8)"/>
<ellipse cx="490" cy="110" rx="28" ry="24" fill="#a3a3a3" fill-opacity="1" filter="url(#bB8)"/>
<ellipse cx="488" cy="105" rx="9" ry="17" fill="#ededed" fill-opacity="1" filter="url(#bB3)"/>
<polyline points="492,120 505,121 515,123" fill="none" stroke="#d6d6d6" stroke-opacity="1" stroke-width="7" stroke-linecap="round" stroke-linejoin="round" filter="url(#bB3)"/>
<polyline points="492,122 512,126 535,128" fill="none" stroke="#9e9e9e" stroke-opacity="1" stroke-width="10" stroke-linecap="round" stroke-linejoin="round" filter="url(#bB5)"/>
<polyline points="540,133 560,140 580,150" fill="none" stroke="#949494" stroke-opacity="1" stroke-width="10" stroke-linecap="round" stroke-linejoin="round" filter="url(#bB5)"/>
<ellipse cx="378" cy="118" rx="12" ry="55" fill="#999999" fill-opacity="1" filter="url(#bB8)"/>
<ellipse cx="378" cy="106" rx="9" ry="18" fill="#adadad" fill-opacity="1" filter="url(#bB5)"/>
<ellipse cx="380" cy="226" rx="14" ry="26" fill="#bdbdbd" fill-opacity="1" filter="url(#bB8)"/>
<ellipse cx="680" cy="108" rx="20" ry="28" fill="#cccccc" fill-opacity="1" filter="url(#bB8)"/>
<ellipse cx="680" cy="238" rx="14" ry="30" fill="#dbdbdb" fill-opacity="1" filter="url(#bB8)"/>
</g></g>
<rect x="488.4" y="84.9" width="6.6" height="6.6" fill="#12874a"/>
<rect x="509.3" y="83.9" width="6.6" height="6.6" fill="#12874a"/>
<rect x="518.5" y="88.5" width="6.6" height="6.6" fill="#12874a"/>
<rect x="527.2" y="90.8" width="6.6" height="6.6" fill="#12874a"/>
<rect x="540.9" y="92.0" width="6.6" height="6.6" fill="#12874a"/>
<rect x="561.2" y="101.6" width="6.6" height="6.6" fill="#12874a"/>
<rect x="570.1" y="105.6" width="6.6" height="6.6" fill="#12874a"/>
<rect x="482.4" y="99.4" width="6.6" height="6.6" fill="#12874a"/>
<rect x="483.6" y="110.1" width="6.6" height="6.6" fill="#12874a"/>
<rect x="487.5" y="112.7" width="6.6" height="6.6" fill="#12874a"/>
<rect x="471.2" y="114.8" width="6.6" height="6.6" fill="#12874a"/>
<rect x="490.7" y="120.3" width="6.6" height="6.6" fill="#12874a"/>
<rect x="508.4" y="122.5" width="6.6" height="6.6" fill="#12874a"/>
<rect x="532.7" y="115.9" width="6.6" height="6.6" fill="#12874a"/>
<rect x="478.3" y="125.6" width="6.6" height="6.6" fill="#12874a"/>
<rect x="455.4" y="131.7" width="6.6" height="6.6" fill="#12874a"/>
<rect x="450.7" y="142.5" width="6.6" height="6.6" fill="#12874a"/>
<rect x="442.1" y="155.7" width="6.6" height="6.6" fill="#12874a"/>
<rect x="437.7" y="161.5" width="6.6" height="6.6" fill="#12874a"/>
<rect x="457.1" y="165.7" width="6.6" height="6.6" fill="#12874a"/>
<rect x="477.2" y="161.9" width="6.6" height="6.6" fill="#12874a"/>
<rect x="486.1" y="169.2" width="6.6" height="6.6" fill="#12874a"/>
<rect x="436.7" y="180.7" width="6.6" height="6.6" fill="#12874a"/>
<rect x="434.2" y="185.4" width="6.6" height="6.6" fill="#12874a"/>
<rect x="480.2" y="182.2" width="6.6" height="6.6" fill="#12874a"/>
<rect x="504.2" y="181.2" width="6.6" height="6.6" fill="#12874a"/>
<rect x="432.9" y="194.7" width="6.6" height="6.6" fill="#12874a"/>
<rect x="447.7" y="194.7" width="6.6" height="6.6" fill="#12874a"/>
<rect x="499.3" y="193.6" width="6.6" height="6.6" fill="#12874a"/>
<rect x="492.5" y="201.0" width="6.6" height="6.6" fill="#12874a"/>
<rect x="495.7" y="200.3" width="6.6" height="6.6" fill="#12874a"/>
<rect x="478.4" y="205.1" width="6.6" height="6.6" fill="#12874a"/>
<rect x="467.8" y="207.4" width="6.6" height="6.6" fill="#12874a"/>
<rect x="421.7" y="210.1" width="6.6" height="6.6" fill="#12874a"/>
<rect x="429.5" y="214.7" width="6.6" height="6.6" fill="#12874a"/>
<rect x="440.0" y="231.5" width="6.6" height="6.6" fill="#12874a"/>
<rect x="441.2" y="238.1" width="6.6" height="6.6" fill="#12874a"/>
<rect x="442.7" y="255.6" width="6.6" height="6.6" fill="#12874a"/>
<rect x="589.5" y="118.4" width="6.6" height="6.6" fill="#12874a"/>
<rect x="553.6" y="126.9" width="6.6" height="6.6" fill="#12874a"/>
<rect x="598.9" y="130.4" width="6.6" height="6.6" fill="#12874a"/>
<rect x="604.2" y="137.0" width="6.6" height="6.6" fill="#12874a"/>
<rect x="560.3" y="137.9" width="6.6" height="6.6" fill="#12874a"/>
<rect x="572.4" y="154.3" width="6.6" height="6.6" fill="#12874a"/>
<rect x="612.9" y="155.5" width="6.6" height="6.6" fill="#12874a"/>
<rect x="594.0" y="164.0" width="6.6" height="6.6" fill="#12874a"/>
<rect x="602.8" y="167.2" width="6.6" height="6.6" fill="#12874a"/>
<rect x="618.9" y="169.4" width="6.6" height="6.6" fill="#12874a"/>
<rect x="625.5" y="177.3" width="6.6" height="6.6" fill="#12874a"/>
<rect x="629.1" y="182.4" width="6.6" height="6.6" fill="#12874a"/>
<rect x="603.1" y="185.7" width="6.6" height="6.6" fill="#12874a"/>
<rect x="594.6" y="197.1" width="6.6" height="6.6" fill="#12874a"/>
<rect x="587.1" y="205.1" width="6.6" height="6.6" fill="#12874a"/>
<rect x="578.3" y="210.1" width="6.6" height="6.6" fill="#12874a"/>
<rect x="561.5" y="220.7" width="6.6" height="6.6" fill="#12874a"/>
<rect x="549.1" y="221.2" width="6.6" height="6.6" fill="#12874a"/>
<rect x="542.0" y="222.5" width="6.6" height="6.6" fill="#12874a"/>
<rect x="539.4" y="227.7" width="6.6" height="6.6" fill="#12874a"/>
<rect x="533.0" y="230.3" width="6.6" height="6.6" fill="#12874a"/>
<rect x="525.2" y="231.7" width="6.6" height="6.6" fill="#12874a"/>
<rect x="499.5" y="255.2" width="6.6" height="6.6" fill="#12874a"/>
<rect x="504.3" y="260.9" width="6.6" height="6.6" fill="#12874a"/>
<rect x="515.3" y="254.4" width="6.6" height="6.6" fill="#12874a"/>
<rect x="479.4" y="263.1" width="6.6" height="6.6" fill="#12874a"/>
<rect x="482.4" y="274.3" width="6.6" height="6.6" fill="#12874a"/>
<rect x="507.5" y="282.0" width="6.6" height="6.6" fill="#12874a"/>
<rect x="465.9" y="85.8" width="6.6" height="6.6" fill="#f2e21c" stroke="#e42a1c" stroke-width="1.2"/>
<text transform="translate(1.2,21.9) scale(0.96,1)" font-family="&quot;Liberation Sans&quot;, sans-serif" font-size="28.5" fill="#1a1a1a">(a)</text>
<text transform="translate(373.6,22.2) scale(1.03,1)" font-family="&quot;Liberation Sans&quot;, sans-serif" font-size="28.5" fill="#1a1a1a">(b)</text>
<text transform="translate(6.8,394.8) scale(0.955,1)" font-family="&quot;Liberation Sans&quot;, sans-serif" font-size="28.5" fill="#1a1a1a">(c)</text>
<text transform="translate(378.8,394.6) scale(1.03,1)" font-family="&quot;Liberation Sans&quot;, sans-serif" font-size="28.5" fill="#1a1a1a">(d)</text>
<defs><linearGradient id="cb" x1="0" y1="0" x2="0" y2="1">
<stop offset="0" stop-color="#ffffff"/>
<stop offset="0.13" stop-color="#ffffff"/>
<stop offset="0.17" stop-color="#f4ecd0"/>
<stop offset="0.25" stop-color="#e2cf90"/>
<stop offset="0.31" stop-color="#d6ba68"/>
<stop offset="0.36" stop-color="#cba63c"/>
<stop offset="0.43" stop-color="#b98c26"/>
<stop offset="0.5" stop-color="#a26a20"/>
<stop offset="0.57" stop-color="#8a4618"/>
<stop offset="0.65" stop-color="#721c10"/>
<stop offset="0.73" stop-color="#5a0a0e"/>
<stop offset="0.82" stop-color="#3a0508"/>
<stop offset="0.91" stop-color="#150203"/>
<stop offset="0.94" stop-color="#000"/>
<stop offset="1" stop-color="#000"/>
</linearGradient></defs>
<rect x="297.5" y="36.5" width="13" height="290.5" fill="url(#cb)" stroke="#6a6a6a" stroke-width="1"/>
<rect x="305" y="50.2" width="11" height="3.4" fill="#1a1a1a"/>
<text x="315.8" y="57.0" font-family="&quot;Liberation Serif&quot;, serif" font-size="14.2" fill="#2a2a2a">750 nm</text>
<rect x="305" y="113.0" width="11" height="3.4" fill="#1a1a1a"/>
<text x="319.3" y="119.8" font-family="&quot;Liberation Serif&quot;, serif" font-size="14.2" fill="#2a2a2a">500 nm</text>
<rect x="305" y="172.2" width="11" height="3.4" fill="#1a1a1a"/>
<text x="319.6" y="179.0" font-family="&quot;Liberation Serif&quot;, serif" font-size="14.2" fill="#2a2a2a">250 nm</text>
<rect x="305" y="230.8" width="11" height="3.4" fill="#1a1a1a"/>
<text x="322.8" y="237.6" font-family="&quot;Liberation Serif&quot;, serif" font-size="14.2" fill="#2a2a2a">0 nm</text>
<rect x="168" y="295.6" width="125.5" height="31" fill="#fff"/>
<line x1="170" y1="317.7" x2="291.4" y2="317.7" stroke="#222" stroke-width="1.3"/>
<line x1="170.2" y1="314.5" x2="170.2" y2="321" stroke="#222" stroke-width="1.2"/>
<line x1="291.2" y1="314.5" x2="291.2" y2="321" stroke="#222" stroke-width="1.2"/>
<text x="232.1" y="310.3" text-anchor="middle" font-family="&quot;Liberation Serif&quot;, serif" font-size="14.2" fill="#222">10 &#956;m</text>
<rect x="37" y="450" width="304.3" height="173" fill="#f5f5f5"/>
<line x1="37" x2="341.3" y1="612.7" y2="612.7" stroke="#e6e6e6" stroke-width="1"/>
<line x1="37" x2="341.3" y1="593.0" y2="593.0" stroke="#e6e6e6" stroke-width="1"/>
<line x1="37" x2="341.3" y1="573.2" y2="573.2" stroke="#e6e6e6" stroke-width="1"/>
<line x1="37" x2="341.3" y1="553.5" y2="553.5" stroke="#e6e6e6" stroke-width="1"/>
<line x1="37" x2="341.3" y1="533.8" y2="533.8" stroke="#e6e6e6" stroke-width="1"/>
<line x1="37" x2="341.3" y1="514.1" y2="514.1" stroke="#e6e6e6" stroke-width="1"/>
<line x1="37" x2="341.3" y1="494.4" y2="494.4" stroke="#e6e6e6" stroke-width="1"/>
<line x1="37" x2="341.3" y1="474.6" y2="474.6" stroke="#e6e6e6" stroke-width="1"/>
<line x1="37" x2="341.3" y1="454.9" y2="454.9" stroke="#e6e6e6" stroke-width="1"/>
<line y1="450" y2="623" x1="65.7" x2="65.7" stroke="#e6e6e6" stroke-width="1"/>
<line y1="450" y2="623" x1="93.8" x2="93.8" stroke="#e6e6e6" stroke-width="1"/>
<line y1="450" y2="623" x1="122.0" x2="122.0" stroke="#e6e6e6" stroke-width="1"/>
<line y1="450" y2="623" x1="150.1" x2="150.1" stroke="#e6e6e6" stroke-width="1"/>
<line y1="450" y2="623" x1="178.3" x2="178.3" stroke="#e6e6e6" stroke-width="1"/>
<line y1="450" y2="623" x1="206.5" x2="206.5" stroke="#e6e6e6" stroke-width="1"/>
<line y1="450" y2="623" x1="234.6" x2="234.6" stroke="#e6e6e6" stroke-width="1"/>
<line y1="450" y2="623" x1="262.8" x2="262.8" stroke="#e6e6e6" stroke-width="1"/>
<line y1="450" y2="623" x1="290.9" x2="290.9" stroke="#e6e6e6" stroke-width="1"/>
<line y1="450" y2="623" x1="319.1" x2="319.1" stroke="#e6e6e6" stroke-width="1"/>
<rect x="37" y="450" width="304.3" height="173" fill="none" stroke="#a4a4a4" stroke-width="1.6"/>
<defs><clipPath id="cc"><rect x="37.5" y="450.5" width="303.5" height="172"/></clipPath></defs>
<g clip-path="url(#cc)" fill="none" stroke-linejoin="round">
<polyline points="42.2,440.0 58.6,613.0 76.3,539.7 93.5,538.1 97.6,535.5 100.0,537.3 109.7,544.3 114.6,540.0 121.5,537.6 123.3,538.5 126.0,544.0 128.2,545.5 131.9,544.0 134.1,554.2 136.3,545.5 139.9,538.6 150.0,538.2 170.0,538.0 185.0,538.4 200.0,538.3 215.0,537.9 231.8,537.6 233.4,545.5 236.0,539.1 240.2,537.6 252.9,540.4 263.5,541.2 268.8,540.0 273.0,537.0 279.4,539.1 281.5,538.0 283.6,545.5 286.8,546.1 290.0,540.8 293.1,535.5 316.0,535.0 341.0,535.0" stroke="#e02228" stroke-width="1.5"/>
<polyline points="38.4,440.0 38.4,500.0 40.7,507.3 43.4,535.6 46.4,534.5 48.7,534.0 52.7,524.6 60.2,532.0 68.1,538.2 74.3,536.5 76.5,532.0 81.1,514.7 82.7,516.5 85.8,512.2 88.5,514.0 89.9,522.8 92.0,519.6 95.6,509.0 97.0,514.3 97.9,534.7 99.1,536.0 139.2,535.6 152.3,535.7 165.2,489.3 169.1,501.7 171.3,504.6 175.7,533.0 197.6,533.6 238.1,533.8 241.3,531.9 246.1,531.3 252.9,513.3 255.0,519.6 256.7,534.0 273.0,534.0 293.0,534.9 341.0,534.8" stroke="#2e3190" stroke-width="1.6"/>
</g>
<line x1="326.5" y1="456" x2="333.5" y2="456" stroke="#9a9ad0" stroke-width="0.9"/><path d="M324.8,456 L327.4,454.6 L327.4,457.4 Z" fill="#4a4aa8"/>
<line x1="324.8" y1="460.4" x2="332" y2="460.4" stroke="#ec7070" stroke-width="0.9"/><path d="M334,460.4 L331.4,459 L331.4,461.8 Z" fill="#e84848"/>
<text x="33.6" y="616.0" text-anchor="end" font-family="&quot;Liberation Sans&quot;, sans-serif" font-size="9.2" font-weight="bold" fill="#222">-16</text>
<text x="33.6" y="596.3" text-anchor="end" font-family="&quot;Liberation Sans&quot;, sans-serif" font-size="9.2" font-weight="bold" fill="#222">-12</text>
<text x="33.6" y="576.5" text-anchor="end" font-family="&quot;Liberation Sans&quot;, sans-serif" font-size="9.2" font-weight="bold" fill="#222">-8</text>
<text x="33.6" y="556.8" text-anchor="end" font-family="&quot;Liberation Sans&quot;, sans-serif" font-size="9.2" font-weight="bold" fill="#222">-4</text>
<text x="33.6" y="537.1" text-anchor="end" font-family="&quot;Liberation Sans&quot;, sans-serif" font-size="9.2" font-weight="bold" fill="#222">0</text>
<text x="33.6" y="517.4" text-anchor="end" font-family="&quot;Liberation Sans&quot;, sans-serif" font-size="9.2" font-weight="bold" fill="#222">4</text>
<text x="33.6" y="497.7" text-anchor="end" font-family="&quot;Liberation Sans&quot;, sans-serif" font-size="9.2" font-weight="bold" fill="#222">8</text>
<text x="33.6" y="477.9" text-anchor="end" font-family="&quot;Liberation Sans&quot;, sans-serif" font-size="9.2" font-weight="bold" fill="#222">12</text>
<text x="33.6" y="458.2" text-anchor="end" font-family="&quot;Liberation Sans&quot;, sans-serif" font-size="9.2" font-weight="bold" fill="#222">16</text>
<text x="37.5" y="632.5" text-anchor="middle" font-family="&quot;Liberation Sans&quot;, sans-serif" font-size="9.2" font-weight="bold" fill="#222">0.000</text>
<text x="65.7" y="632.5" text-anchor="middle" font-family="&quot;Liberation Sans&quot;, sans-serif" font-size="9.2" font-weight="bold" fill="#222">0.2</text>
<text x="93.8" y="632.5" text-anchor="middle" font-family="&quot;Liberation Sans&quot;, sans-serif" font-size="9.2" font-weight="bold" fill="#222">0.4</text>
<text x="122.0" y="632.5" text-anchor="middle" font-family="&quot;Liberation Sans&quot;, sans-serif" font-size="9.2" font-weight="bold" fill="#222">0.6</text>
<text x="150.1" y="632.5" text-anchor="middle" font-family="&quot;Liberation Sans&quot;, sans-serif" font-size="9.2" font-weight="bold" fill="#222">0.8</text>
<text x="178.3" y="632.5" text-anchor="middle" font-family="&quot;Liberation Sans&quot;, sans-serif" font-size="9.2" font-weight="bold" fill="#222">1.00</text>
<text x="206.5" y="632.5" text-anchor="middle" font-family="&quot;Liberation Sans&quot;, sans-serif" font-size="9.2" font-weight="bold" fill="#222">1.20</text>
<text x="234.6" y="632.5" text-anchor="middle" font-family="&quot;Liberation Sans&quot;, sans-serif" font-size="9.2" font-weight="bold" fill="#222">1.40</text>
<text x="262.8" y="632.5" text-anchor="middle" font-family="&quot;Liberation Sans&quot;, sans-serif" font-size="9.2" font-weight="bold" fill="#222">1.60</text>
<text x="290.9" y="632.5" text-anchor="middle" font-family="&quot;Liberation Sans&quot;, sans-serif" font-size="9.2" font-weight="bold" fill="#222">1.80</text>
<text x="319.1" y="632.5" text-anchor="middle" font-family="&quot;Liberation Sans&quot;, sans-serif" font-size="9.2" font-weight="bold" fill="#222">2.00</text>
<text x="187.5" y="653.3" text-anchor="middle" font-family="&quot;Liberation Sans&quot;, sans-serif" font-size="10" fill="#333">Separation (&#956;m)</text>
<text transform="translate(19.6,532) rotate(-90)" text-anchor="middle" font-family="&quot;Liberation Sans&quot;, sans-serif" font-size="10" fill="#333">Force (nN)</text>
<rect x="413.8" y="635.5" width="28.3" height="6.8" fill="#c1c1c1" stroke="#3a3a3a" stroke-width="1"/>
<rect x="442.1" y="614.9" width="28.3" height="27.4" fill="#c1c1c1" stroke="#3a3a3a" stroke-width="1"/>
<rect x="470.4" y="587.6" width="28.3" height="54.7" fill="#c1c1c1" stroke="#3a3a3a" stroke-width="1"/>
<rect x="498.7" y="546.5" width="28.3" height="95.8" fill="#c1c1c1" stroke="#3a3a3a" stroke-width="1"/>
<rect x="526.9" y="485.0" width="28.3" height="157.3" fill="#c1c1c1" stroke="#3a3a3a" stroke-width="1"/>
<rect x="555.2" y="478.1" width="28.3" height="164.2" fill="#c1c1c1" stroke="#3a3a3a" stroke-width="1"/>
<rect x="583.5" y="532.9" width="28.3" height="109.4" fill="#c1c1c1" stroke="#3a3a3a" stroke-width="1"/>
<rect x="611.8" y="580.7" width="28.3" height="61.6" fill="#c1c1c1" stroke="#3a3a3a" stroke-width="1"/>
<rect x="640.0" y="635.5" width="28.3" height="6.8" fill="#c1c1c1" stroke="#3a3a3a" stroke-width="1"/>
<polyline points="428.8,638.0 429.9,637.7 431.1,637.5 432.2,637.2 433.3,636.9 434.5,636.6 435.6,636.2 436.7,635.9 437.9,635.5 439.0,635.1 440.1,634.7 441.2,634.3 442.4,633.8 443.5,633.3 444.6,632.8 445.8,632.3 446.9,631.7 448.0,631.1 449.2,630.5 450.3,629.9 451.4,629.2 452.6,628.5 453.7,627.8 454.8,627.0 456.0,626.2 457.1,625.4 458.2,624.5 459.4,623.6 460.5,622.6 461.6,621.7 462.7,620.7 463.9,619.6 465.0,618.5 466.1,617.4 467.3,616.2 468.4,615.0 469.5,613.7 470.7,612.4 471.8,611.1 472.9,609.7 474.1,608.3 475.2,606.8 476.3,605.3 477.5,603.7 478.6,602.2 479.7,600.5 480.9,598.8 482.0,597.1 483.1,595.3 484.3,593.5 485.4,591.7 486.5,589.8 487.6,587.8 488.8,585.9 489.9,583.9 491.0,581.8 492.2,579.7 493.3,577.6 494.4,575.5 495.6,573.3 496.7,571.1 497.8,568.8 499.0,566.6 500.1,564.3 501.2,561.9 502.4,559.6 503.5,557.2 504.6,554.9 505.8,552.5 506.9,550.1 508.0,547.7 509.1,545.3 510.3,542.8 511.4,540.4 512.5,538.0 513.7,535.6 514.8,533.2 515.9,530.8 517.1,528.4 518.2,526.0 519.3,523.7 520.5,521.3 521.6,519.0 522.7,516.8 523.9,514.5 525.0,512.3 526.1,510.2 527.3,508.0 528.4,506.0 529.5,503.9 530.6,502.0 531.8,500.1 532.9,498.2 534.0,496.4 535.2,494.7 536.3,493.0 537.4,491.4 538.6,489.9 539.7,488.4 540.8,487.0 542.0,485.7 543.1,484.5 544.2,483.4 545.4,482.3 546.5,481.4 547.6,480.5 548.8,479.7 549.9,479.0 551.0,478.4 552.2,477.9 553.3,477.5 554.4,477.2 555.5,477.0 556.7,476.9 557.8,476.9 558.9,476.9 560.1,477.1 561.2,477.4 562.3,477.7 563.5,478.2 564.6,478.7 565.7,479.4 566.9,480.1 568.0,481.0 569.1,481.9 570.3,482.9 571.4,484.0 572.5,485.2 573.7,486.4 574.8,487.8 575.9,489.2 577.0,490.7 578.2,492.2 579.3,493.9 580.4,495.6 581.6,497.4 582.7,499.2 583.8,501.1 585.0,503.0 586.1,505.0 587.2,507.1 588.4,509.2 589.5,511.3 590.6,513.5 591.8,515.7 592.9,518.0 594.0,520.3 595.2,522.6 596.3,524.9 597.4,527.3 598.5,529.7 599.7,532.1 600.8,534.5 601.9,536.9 603.1,539.3 604.2,541.7 605.3,544.2 606.5,546.6 607.6,549.0 608.7,551.4 609.9,553.8 611.0,556.2 612.1,558.5 613.3,560.9 614.4,563.2 615.5,565.5 616.7,567.8 617.8,570.1 618.9,572.3 620.1,574.5 621.2,576.6 622.3,578.8 623.4,580.9 624.6,582.9 625.7,585.0 626.8,587.0 628.0,588.9 629.1,590.8 630.2,592.7 631.4,594.5 632.5,596.3 633.6,598.0 634.8,599.8 635.9,601.4 637.0,603.0 638.2,604.6 639.3,606.1 640.4,607.6 641.6,609.1 642.7,610.5 643.8,611.8 644.9,613.1 646.1,614.4 647.2,615.7 648.3,616.8 649.5,618.0 650.6,619.1 651.7,620.2 652.9,621.2 654.0,622.2" fill="none" stroke="#000" stroke-width="2.4" stroke-linecap="round"/>
<line x1="401.5" y1="435.8" x2="401.5" y2="643.5" stroke="#000" stroke-width="2.6"/>
<line x1="400.3" y1="642.5" x2="680.6" y2="642.5" stroke="#000" stroke-width="2.2"/>
<line x1="398.8" x2="401" y1="642.3" y2="642.3" stroke="#000" stroke-width="1.2"/>
<text x="396.6" y="646.0" text-anchor="end" font-family="&quot;Liberation Sans&quot;, sans-serif" font-size="10.4" fill="#222">0</text>
<line x1="398.8" x2="401" y1="608.1" y2="608.1" stroke="#000" stroke-width="1.2"/>
<text x="396.6" y="611.8" text-anchor="end" font-family="&quot;Liberation Sans&quot;, sans-serif" font-size="10.4" fill="#222">5</text>
<line x1="398.8" x2="401" y1="573.9" y2="573.9" stroke="#000" stroke-width="1.2"/>
<text x="396.6" y="577.6" text-anchor="end" font-family="&quot;Liberation Sans&quot;, sans-serif" font-size="10.4" fill="#222">10</text>
<line x1="398.8" x2="401" y1="539.7" y2="539.7" stroke="#000" stroke-width="1.2"/>
<text x="396.6" y="543.4" text-anchor="end" font-family="&quot;Liberation Sans&quot;, sans-serif" font-size="10.4" fill="#222">15</text>
<line x1="398.8" x2="401" y1="505.5" y2="505.5" stroke="#000" stroke-width="1.2"/>
<text x="396.6" y="509.2" text-anchor="end" font-family="&quot;Liberation Sans&quot;, sans-serif" font-size="10.4" fill="#222">20</text>
<line x1="398.8" x2="401" y1="471.3" y2="471.3" stroke="#000" stroke-width="1.2"/>
<text x="396.6" y="475.0" text-anchor="end" font-family="&quot;Liberation Sans&quot;, sans-serif" font-size="10.4" fill="#222">25</text>
<line x1="398.8" x2="401" y1="437.1" y2="437.1" stroke="#000" stroke-width="1.2"/>
<text x="396.6" y="440.8" text-anchor="end" font-family="&quot;Liberation Sans&quot;, sans-serif" font-size="10.4" fill="#222">30</text>
<line x1="442.1" x2="442.1" y1="643" y2="646" stroke="#000" stroke-width="1"/>
<text x="441.8" y="655.2" text-anchor="middle" font-family="&quot;Liberation Sans&quot;, sans-serif" font-size="10.2" fill="#222">1.0e+7</text>
<line x1="498.7" x2="498.7" y1="643" y2="646" stroke="#000" stroke-width="1"/>
<text x="498.4" y="655.2" text-anchor="middle" font-family="&quot;Liberation Sans&quot;, sans-serif" font-size="10.2" fill="#222">1.2e+7</text>
<line x1="555.2" x2="555.2" y1="643" y2="646" stroke="#000" stroke-width="1"/>
<text x="554.9" y="655.2" text-anchor="middle" font-family="&quot;Liberation Sans&quot;, sans-serif" font-size="10.2" fill="#222">1.4e+7</text>
<line x1="611.8" x2="611.8" y1="643" y2="646" stroke="#000" stroke-width="1"/>
<text x="611.5" y="655.2" text-anchor="middle" font-family="&quot;Liberation Sans&quot;, sans-serif" font-size="10.2" fill="#222">1.6e+7</text>
<line x1="668.3" x2="668.3" y1="643" y2="646" stroke="#000" stroke-width="1"/>
<text x="668.0" y="655.2" text-anchor="middle" font-family="&quot;Liberation Sans&quot;, sans-serif" font-size="10.2" fill="#222">1.8e+7</text>
<text x="562" y="675.5" text-anchor="middle" font-family="&quot;Liberation Sans&quot;, sans-serif" font-size="9.6" fill="#222">Young&#8217;s Modulus (Pa)</text>
<text transform="translate(379.8,520) rotate(-90)" text-anchor="middle" font-family="&quot;Liberation Sans&quot;, sans-serif" font-size="10" fill="#222">Number of Events</text>
</svg></body></html>
